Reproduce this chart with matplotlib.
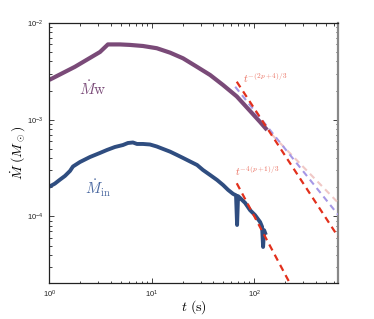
import matplotlib
matplotlib.use('Agg')
import matplotlib.pyplot as plt
import numpy as np
from matplotlib.ticker import LogLocator, FuncFormatter, NullFormatter

plt.rcParams['font.family'] = ['Liberation Sans', 'DejaVu Sans']
plt.rcParams['mathtext.fontset'] = 'cm'

# wind mass-loss rate
t_w = [1.0, 1.775, 3.12, 3.73, 4.89, 6.12, 8.2, 11.2, 15.1, 20.2, 27.5,
       37.1, 49.7, 67.6, 91.2, 114.2, 133.7]
mdot_w = [2.58e-3, 3.52e-3, 5.01e-3, 6.0e-3, 6.0e-3, 5.93e-3, 5.78e-3,
          5.48e-3, 4.93e-3, 4.31e-3, 3.53e-3, 2.90e-3, 2.28e-3, 1.74e-3,
          1.23e-3, 9.47e-4, 7.82e-4]

# inflow rate
t_in = [1.0, 1.13, 1.27, 1.42, 1.59, 1.70, 1.99, 2.49, 3.12, 3.65, 4.37,
        5.23, 5.85, 6.55, 7.17, 8.2, 9.6, 11.2, 12.9, 15.1, 17.6, 20.2,
        23.6, 27.7, 31.6, 37.1, 43.4, 49.7, 55.6, 62.2, 66.5, 68.1, 69.6,
        72.8, 81.5, 91.2, 102, 114.2, 119.5, 122.2, 125, 128]
mdot_in = [2.03e-4, 2.18e-4, 2.40e-4, 2.62e-4, 2.95e-4, 3.28e-4, 3.65e-4,
           4.11e-4, 4.53e-4, 4.86e-4, 5.22e-4, 5.47e-4, 5.74e-4, 5.81e-4,
           5.61e-4, 5.61e-4, 5.54e-4, 5.28e-4, 4.98e-4, 4.67e-4, 4.32e-4,
           4.02e-4, 3.70e-4, 3.40e-4, 3.02e-4, 2.68e-4, 2.38e-4, 2.11e-4,
           1.88e-4, 1.71e-4, 1.65e-4, 8.15e-5, 1.62e-4, 1.55e-4, 1.38e-4,
           1.16e-4, 1.03e-4, 8.75e-5, 7.8e-5, 4.83e-5, 7.2e-5, 6.73e-5]

# power-law guide lines (end points)
t_fit_w = [67.6, 660]
m_fit_w = [2.47e-3, 6.17e-5]
t_fit_in = [67.6, 260]
m_fit_in = [2.2e-4, 1.5e-5]
t_alt1 = [65.3, 660]
m_alt1 = [2.19e-3, 1.04e-4]
t_alt2 = [150, 645]
m_alt2 = [6.95e-4, 1.42e-4]

fig = plt.figure(figsize=(3.74, 3.19), dpi=100)
ax = fig.add_axes([0.132, 0.113, 0.772, 0.815])

ax.plot(t_w, mdot_w, color='#7a4a78', lw=3.0, solid_capstyle='butt',
        solid_joinstyle='round', zorder=2)
ax.plot(t_in, mdot_in, color='#2f4d80', lw=2.8, solid_joinstyle='round', zorder=2)

ax.plot(t_alt2, m_alt2, color='#f0c8c6', lw=1.5, dashes=(3, 2.2), zorder=3)
ax.plot(t_alt1, m_alt1, color='#a698e6', lw=1.5, dashes=(3, 2.2), zorder=3)
ax.plot(t_fit_w, m_fit_w, color='#e2301c', lw=1.6, dashes=(3, 2.2), zorder=4)
ax.plot(t_fit_in, m_fit_in, color='#e2301c', lw=1.6, dashes=(3, 2.2), zorder=4)

ax.text(2.66, 2.07e-3, r'$\dot{M}\mathrm{w}$', color='#7a4a78', fontsize=11,
        ha='center', va='center')
ax.text(3.01, 1.97e-4, r'$\dot{M}_\mathrm{in}$', color='#4a68a0', fontsize=11,
        ha='center', va='center')
ax.text(77.9, 2.70e-3, r'$t^{-(2p+4)/3}$', color='#ea7060', fontsize=7.5,
        ha='left', va='center')
ax.text(65.0, 2.95e-4, r'$t^{-4(p+1)/3}$', color='#ea7060', fontsize=7.5,
        ha='left', va='center')

ax.set_xscale('log')
ax.set_yscale('log')
ax.set_xlim(1, 660)
ax.set_ylim(2.05e-5, 1e-2)

fmt = FuncFormatter(lambda v, p: r'$\mathregular{10^{%d}}$' % int(round(np.log10(v))))
ax.xaxis.set_major_formatter(fmt)
ax.yaxis.set_major_formatter(fmt)
ax.xaxis.set_minor_formatter(NullFormatter())
ax.yaxis.set_minor_formatter(NullFormatter())
ax.xaxis.set_minor_locator(LogLocator(subs=np.arange(2, 10)))
ax.yaxis.set_minor_locator(LogLocator(subs=np.arange(2, 10)))

ax.tick_params(which='both', direction='in', top=True, right=True,
               labelsize=5.5, width=0.6, colors='#222')
ax.tick_params(which='major', length=3.5, pad=4)
ax.tick_params(which='minor', length=1.8)

for s in ax.spines.values():
    s.set_linewidth(0.9)
    s.set_color('#222')
ax.spines['right'].set_color('#888')
ax.spines['right'].set_linewidth(1.6)

ax.set_xlabel(r'$t\ (\mathrm{s})$', fontsize=10, labelpad=-1)
ax.set_ylabel(r'$\dot{M}\ (M_\odot)$', fontsize=10, labelpad=0)

fig.savefig('out.png', dpi=100)
